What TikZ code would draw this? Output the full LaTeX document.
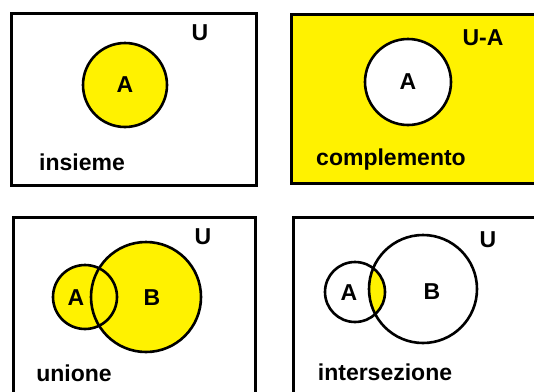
\documentclass[tikz,border=0pt]{standalone}
\usepackage{fontspec}
\setmainfont{Liberation Sans}
\usepackage{xcolor}
\definecolor{setyellow}{HTML}{FFF200}
\usetikzlibrary{positioning}

\begin{document}
\begin{tikzpicture}[x=1pt, y=-1pt]
  \tikzstyle{panel}=[line width=3pt, draw=black]
  \tikzstyle{setcirc}=[circle, draw=black, line width=2.6pt, inner sep=0pt]
  \tikzstyle{lbl}=[inner sep=0pt, font=\fontsize{23}{26}\selectfont\bfseries]
  \useasboundingbox (0,0) rectangle (534,391);
  \clip (0,0) rectangle (534,391);
  % insieme
  \draw[panel] (11,13) rectangle (256,185);
  \node[setcirc, fill=setyellow, minimum size=84pt] (a1) at (125,85) {};
  \node[lbl] (a1t) at (a1) {A};
  \node[lbl] (u1) at (200,33) {U};
  \node[lbl] (t1) at (82,162) {insieme};
  % complemento
  \draw[panel, fill=setyellow] (291,14) rectangle (550,183);
  \node[setcirc, fill=white, minimum size=86pt] (a2) at (408,82) {};
  \node[lbl] (a2t) at (a2) {A};
  \node[lbl] (u2) at (483,38) {U-A};
  \node[lbl] (t2) at (391,160) {complemento};
  % unione
  \draw[panel] (13,217) rectangle (255,410);
  \fill[setyellow] (85,297) circle (32) (146,297) circle (55);
  \node[setcirc, minimum size=64pt] (a3) at (85,297) {};
  \node[setcirc, minimum size=110pt] (b3) at (146,297) {};
  \node[lbl] (a3t) at (76,298) {A};
  \node[lbl] (b3t) at (152,298) {B};
  \node[lbl] (u3) at (203,237) {U};
  \node[lbl] (t3) at (74,373) {unione};
  % intersezione
  \draw[panel] (293,217) rectangle (550,410);
  \begin{scope}
    \clip (355,292) circle (30);
    \fill[setyellow] (423,289) circle (54);
  \end{scope}
  \node[setcirc, minimum size=60pt] (a4) at (355,292) {};
  \node[setcirc, minimum size=108pt] (b4) at (423,289) {};
  \node[lbl] (a4t) at (349,293) {A};
  \node[lbl] (b4t) at (432,292) {B};
  \node[lbl] (u4) at (488,240) {U};
  \node[lbl] (t4) at (385,372) {intersezione};
\end{tikzpicture}
\end{document}
